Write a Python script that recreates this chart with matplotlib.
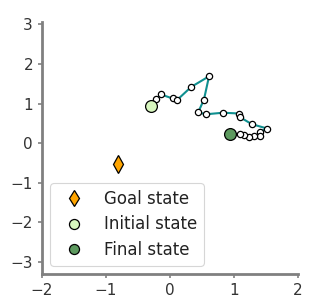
import matplotlib
matplotlib.use("Agg")
import matplotlib.pyplot as plt

# trajectory (x, y)
path_x = [-0.30, -0.22, -0.14, 0.04, 0.11, 0.33, 0.61, 0.53, 0.44, 0.56, 0.83,
          1.08, 1.10, 1.28, 1.52, 1.41, 1.40, 1.31, 1.24, 1.16, 1.10, 0.94]
path_y = [0.93, 1.11, 1.23, 1.13, 1.09, 1.42, 1.69, 1.10, 0.78, 0.73, 0.77,
          0.75, 0.65, 0.48, 0.37, 0.29, 0.19, 0.19, 0.16, 0.20, 0.23, 0.24]
goal = (-0.81, -0.53)

fig = plt.figure(figsize=(3.16, 3.06), dpi=100)
ax = fig.add_axes([0.133, 0.105, 0.81, 0.823])

ax.plot(path_x, path_y, color="#0f9090", lw=1.5, zorder=1)
ax.plot(path_x[1:-1], path_y[1:-1], "o", ms=4.5, mfc="white", mec="black",
        mew=0.9, lw=0, zorder=2)
ax.plot(goal[0], goal[1], "d", ms=9, mfc="#ffa500", mec="black", mew=0.9,
        lw=0, label="Goal state", zorder=3)
ax.plot(path_x[0], path_y[0], "o", ms=8.5, mfc="#d8f7bf", mec="black",
        mew=0.9, lw=0, label="Initial state", zorder=3)
ax.plot(path_x[-1], path_y[-1], "o", ms=8.5, mfc="#5d9a5f", mec="black",
        mew=0.9, lw=0, label="Final state", zorder=3)

ax.set_xlim(-2, 2)
ax.set_ylim(-3.3, 3.06)
ax.set_xticks([-2, -1, 0, 1, 2])
ax.set_yticks([-3, -2, -1, 0, 1, 2, 3])
for s in ["top", "right"]:
    ax.spines[s].set_visible(False)
for s in ["left", "bottom"]:
    ax.spines[s].set_color("#808080")
    ax.spines[s].set_linewidth(2)
ax.tick_params(colors="#808080", labelcolor="#333333", labelsize=11,
               length=3, width=1.2)

leg = ax.legend(loc="lower left", fontsize=12, frameon=True, fancybox=True,
                edgecolor="#cccccc", handletextpad=0.8, borderpad=0.4,
                labelspacing=0.45, markerscale=0.85)
leg.get_frame().set_linewidth(0.8)
for t in leg.get_texts():
    t.set_color("#222222")

fig.savefig("out.png", dpi=100)
